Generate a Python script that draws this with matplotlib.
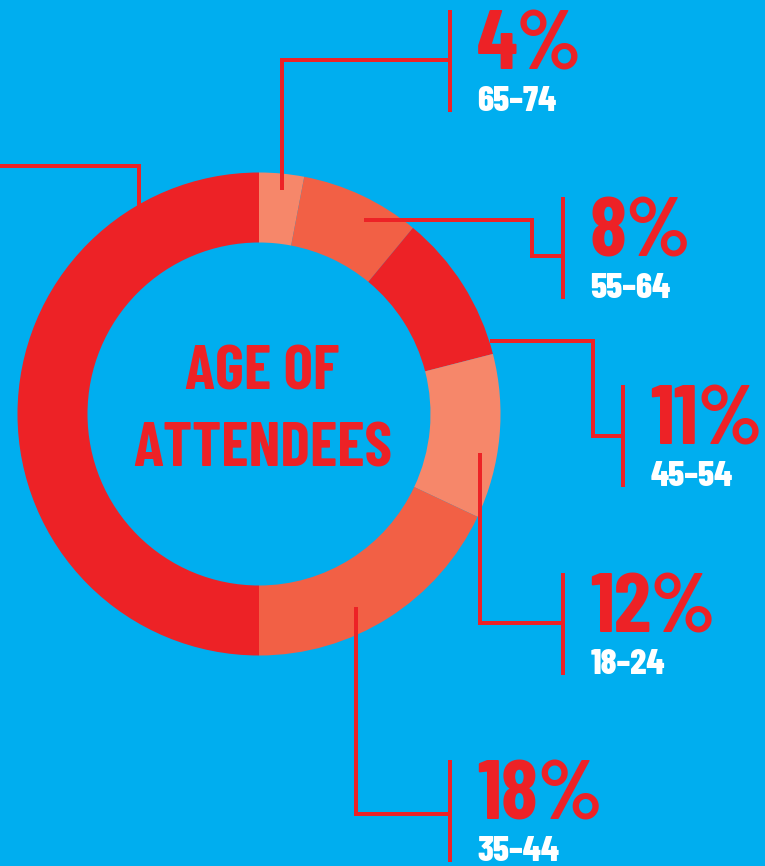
import matplotlib
matplotlib.use("Agg")
import matplotlib.pyplot as plt
from matplotlib.font_manager import FontProperties
from matplotlib.textpath import TextPath

shares = [3, 8, 10, 11, 18, 50]
pct_labels = ["4%", "8%", "11%", "12%", "18%"]
age_labels = ["65–74", "55–64", "45–54", "18–24", "35–44"]

BG = "#00AEEF"
RED = "#ED2226"
MID = "#F26045"
LIGHT = "#F6876A"
slice_colors = [LIGHT, MID, RED, LIGHT, MID, RED]

# label layout: x of the small vertical bar, top of the bar (pixels)
bar_x = [450, 562.7, 623.3, 563.3, 450]
bar_top = [10, 197.3, 385, 572.7, 760]
# leader line routes (pixels)
leaders = [
    [(282, 190), (282, 59.5), (450, 59.5)],
    [(364, 219.5), (532, 219.5), (532, 256), (563, 256)],
    [(490, 340.5), (593, 340.5), (593, 436), (623, 436)],
    [(480.5, 453), (480.5, 623), (563, 623)],
    [(356, 606.5), (356, 814), (450, 814)],
    [(139, 212), (139, 166), (-5, 166)],
]

DPI = 100
FAM = ["Barlow Condensed", "DejaVu Sans"]


def size_for_cap(cap_px, weight="bold"):
    # font size in points that gives a cap height of cap_px pixels
    fp = FontProperties(family=FAM[0], weight=weight)
    cap = TextPath((0, 0), "H", size=100, prop=fp).get_extents().height
    return cap_px / (cap / 100.0) * 72.0 / DPI


fig = plt.figure(figsize=(7.65, 8.66), dpi=DPI)
fig.patch.set_facecolor(BG)
ax = fig.add_axes([0, 0, 1, 1])
ax.set_facecolor(BG)

ax.pie(shares, colors=slice_colors, startangle=-90, counterclock=True,
       radius=241.5, center=(259, 414),
       wedgeprops=dict(width=70, linewidth=0, antialiased=True))

lw = 4 * 72.0 / DPI
for route in leaders:
    xs = [p[0] for p in route]
    ys = [p[1] for p in route]
    ax.plot(xs, ys, color=RED, lw=lw, solid_capstyle="butt", solid_joinstyle="miter")

fs_pct = size_for_cap(59)
fs_age = size_for_cap(25, "heavy")
for bx, top, pct, age in zip(bar_x, bar_top, pct_labels, age_labels):
    ax.plot([bx, bx], [top, top + 102], color=RED, lw=lw, solid_capstyle="butt")
    ax.text(bx + 27, top + 59.5, pct, color=RED, fontsize=fs_pct,
            family=FAM, weight="bold", ha="left", va="baseline")
    ax.text(bx + 27, top + 101, age, color="white", fontsize=fs_age,
            family=FAM, weight="heavy", ha="left", va="baseline")

fs_title = size_for_cap(43.5)
ax.text(262, 390, "AGE OF", color=RED, fontsize=fs_title, family=FAM,
        weight="bold", ha="center", va="baseline")
ax.text(263, 466.7, "ATTENDEES", color=RED, fontsize=fs_title, family=FAM,
        weight="bold", ha="center", va="baseline")

ax.set_xlim(0, 765)
ax.set_ylim(866, 0)
ax.set_aspect("auto")
ax.axis("off")

fig.savefig("out.png", dpi=DPI, facecolor=BG)
